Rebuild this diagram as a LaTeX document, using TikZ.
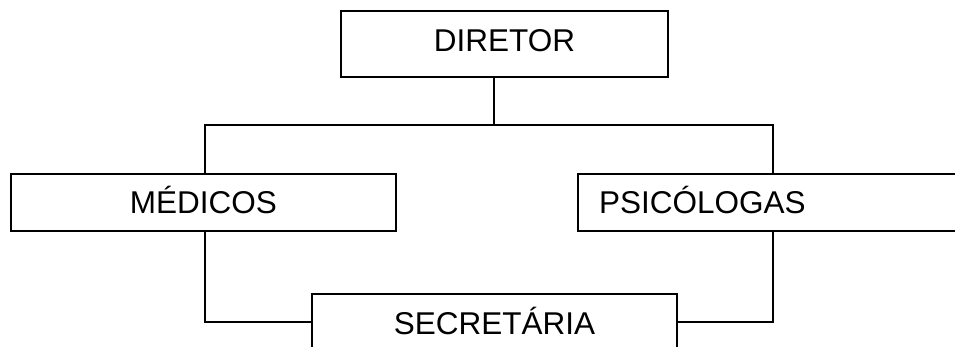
\documentclass[tikz,border=0pt]{standalone}
\usepackage{fontspec}
\setmainfont{Liberation Sans}
\begin{document}
\begin{tikzpicture}[x=1pt,y=-1pt,
  box/.style={draw, line width=2pt, inner sep=0pt,
    font=\fontsize{31.5}{36}\selectfont, text height=22.5pt, text depth=0pt},
  link/.style={line width=2pt}]
\useasboundingbox (0,0) rectangle (955,347);
\clip (0,0) rectangle (955,347);

% boxes
\node[box, minimum width=327pt, minimum height=66pt, text depth=7pt]
  (dir) at (504.5,44) {DIRETOR};
\node[box, minimum width=385pt, minimum height=57pt]
  (med) at (203.5,202.5) {MÉDICOS};
\node[box, anchor=west, minimum width=410pt, minimum height=57pt,
  inner xsep=21pt, text width=368pt, align=left]
  (psi) at (577,202.5) {PSICÓLOGAS};
\node[box, minimum width=365pt, minimum height=59pt]
  (sec) at (494.5,323.5) {SECRETÁRIA};

% junction points
\coordinate (jm) at (494,125);
\coordinate (jl) at (205,125);
\coordinate (jr) at (773,125);
\coordinate (bl) at (205,322);
\coordinate (br) at (773,322);

% connectors
\draw[link] (dir.south -| jm) -- (jm);
\draw[link] (med.north -| jl) -- (jl) -- (jr) -- (psi.north -| jr);
\draw[link] (med.south -| bl) -- (bl) -- (sec.west |- bl);
\draw[link] (psi.south -| br) -- (br) -- (sec.east |- br);
\end{tikzpicture}
\end{document}
